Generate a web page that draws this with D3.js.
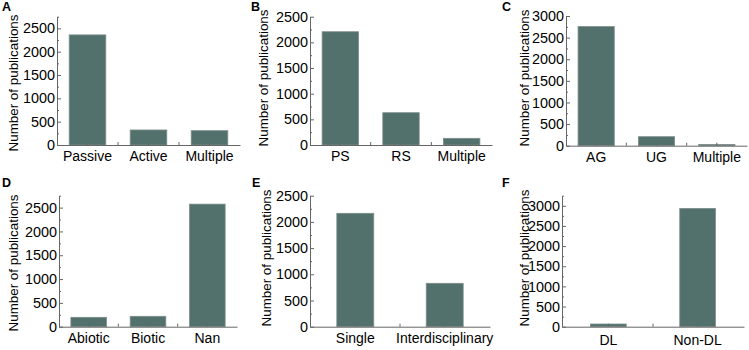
<!DOCTYPE html>
<html>
<head>
<meta charset="utf-8">
<script src="https://cdn.jsdelivr.net/npm/d3@7"></script>
<style>
  body { margin: 0; background: #fff; }
  svg text { font-family: "Liberation Sans", Arial, sans-serif; }
  .axis path, .axis line { stroke: #666; }
  .axis text { fill: #000; font-family: "Liberation Sans", Arial, sans-serif; }
  .yax text { font-size: 14.4px; }
  .xax text { font-size: 14px; }
</style>
</head>
<body>
<div id="chart"></div>
<script>
// panel data
const catsA = ["Passive", "Active", "Multiple"];
const valsA = [2360, 322, 307];
const catsB = ["PS", "RS", "Multiple"];
const valsB = [2207, 629, 130];
const catsC = ["AG", "UG", "Multiple"];
const valsC = [2755, 208, 30];
const catsD = ["Abiotic", "Biotic", "Nan"];
const valsD = [197, 218, 2573];
const catsE = ["Single", "Interdisciplinary"];
const valsE = [2164, 828];
const catsF = ["DL", "Non-DL"];
const valsF = [67, 2935];

const yTicksA = [0, 500, 1000, 1500, 2000, 2500];
const yTicksC = [0, 500, 1000, 1500, 2000, 2500, 3000];

const width = 749, height = 350;
const barColor = "#52716d";

const svg = d3.select("#chart").append("svg")
    .attr("width", width)
    .attr("height", height);

function drawPanel(p) {
    const g = svg.append("g");

    const x = d3.scaleBand()
        .domain(p.cats)
        .range([p.x0, p.x1])
        .paddingInner(p.padIn)
        .paddingOuter(p.padOut);

    const y = d3.scaleLinear()
        .domain([0, p.yMax])
        .range([p.y0, p.yTop]);

    // bars
    g.selectAll("rect")
        .data(p.vals)
        .enter().append("rect")
        .attr("x", (d, i) => x(p.cats[i]))
        .attr("y", d => y(d))
        .attr("width", x.bandwidth())
        .attr("height", d => p.y0 - y(d))
        .attr("fill", barColor)
        .attr("stroke", "#7d8c89")
        .attr("stroke-width", 0.8);

    // minor y ticks
    const minor = d3.range(250, p.yMax + 1, 500);
    g.append("g")
        .attr("class", "axis")
        .attr("transform", `translate(${p.x0},0)`)
        .call(d3.axisLeft(y).tickValues(minor).tickSize(-2).tickFormat(""))
        .call(s => s.select(".domain").remove());

    // y axis
    g.append("g")
        .attr("class", "axis yax")
        .attr("transform", `translate(${p.x0},0)`)
        .call(d3.axisLeft(y).tickValues(p.yTicks).tickFormat(d3.format("d"))
            .tickSizeInner(-4).tickSizeOuter(0).tickPadding(2));

    // x axis ticks between bars
    const bounds = p.cats.slice(1).map(c => x(c) - x.step() * x.paddingInner() / 2);
    g.selectAll("line.sep")
        .data(bounds)
        .enter().append("line")
        .attr("x1", d => d).attr("x2", d => d)
        .attr("y1", p.y0).attr("y2", p.y0 - 3)
        .attr("stroke", "#666");

    // x axis
    g.append("g")
        .attr("class", "axis xax")
        .attr("transform", `translate(0,${p.y0})`)
        .call(d3.axisBottom(x).tickSizeInner(-3).tickSizeOuter(0).tickPadding(p.xPad));

    // y title
    g.append("text")
        .attr("transform", `translate(${p.titleX},${p.titleY}) rotate(-90)`)
        .attr("text-anchor", "middle")
        .attr("dy", "0.35em")
        .style("font-size", "13.4px")
        .text("Number of publications");

    // panel letter
    g.append("text")
        .attr("x", p.lx)
        .attr("y", p.ly)
        .style("font-size", "12.5px")
        .style("font-weight", "bold")
        .text(p.letter);
}

drawPanel({ letter: "A", lx: 2, ly: 11, cats: catsA, vals: valsA, yTicks: yTicksA, yMax: 2750,
    x0: 57, x1: 240, y0: 145, yTop: 16.7, padIn: 0.4, padOut: 0.2, titleX: 13, titleY: 83, xPad: 6 });
drawPanel({ letter: "B", lx: 251, ly: 11, cats: catsB, vals: valsB, yTicks: yTicksA, yMax: 2500,
    x0: 310, x1: 492, y0: 145, yTop: 16.7, padIn: 0.4, padOut: 0.2, titleX: 263, titleY: 78, xPad: 6 });
drawPanel({ letter: "C", lx: 502, ly: 11, cats: catsC, vals: valsC, yTicks: yTicksC, yMax: 3000,
    x0: 566, x1: 747, y0: 145.7, yTop: 16, padIn: 0.4, padOut: 0.2, titleX: 524, titleY: 78, xPad: 6 });
drawPanel({ letter: "D", lx: 2, ly: 187, cats: catsD, vals: valsD, yTicks: yTicksA, yMax: 2750,
    x0: 59, x1: 237, y0: 326.7, yTop: 195.7, padIn: 0.4, padOut: 0.2, titleX: 13, titleY: 263, xPad: 6 });
drawPanel({ letter: "E", lx: 252, ly: 187, cats: catsE, vals: valsE, yTicks: yTicksA, yMax: 2500,
    x0: 310, x1: 490, y0: 326.7, yTop: 195.7, padIn: 0.587, padOut: 0.3, titleX: 266, titleY: 258, xPad: 6 });
drawPanel({ letter: "F", lx: 502, ly: 187, cats: catsF, vals: valsF, yTicks: yTicksC, yMax: 3250,
    x0: 562, x1: 744, y0: 326.7, yTop: 195.7, padIn: 0.6, padOut: 0.32, titleX: 524, titleY: 258, xPad: 8 });
</script>
</body>
</html>
